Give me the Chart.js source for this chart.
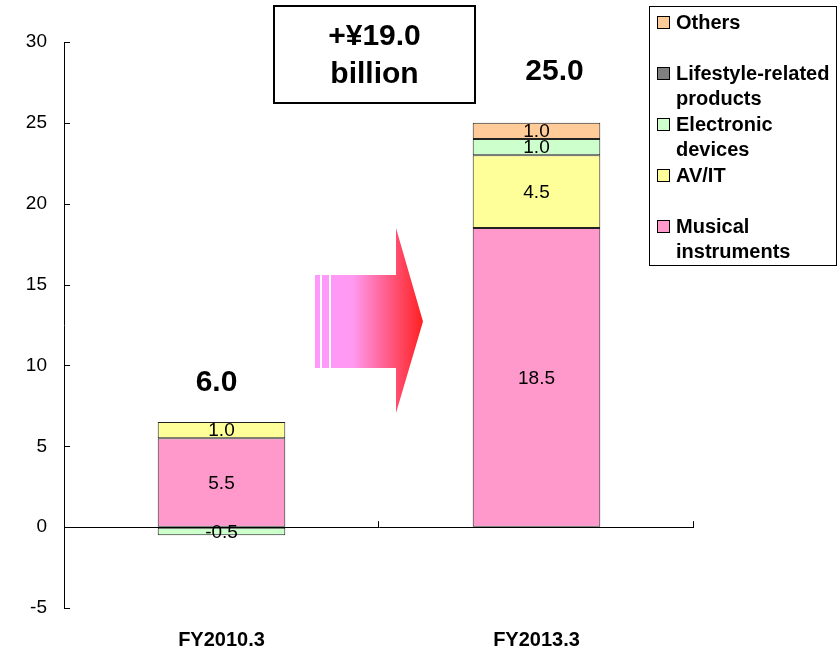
<!DOCTYPE html>
<html>
<head>
<meta charset="utf-8">
<script src="https://cdn.jsdelivr.net/npm/chart.js@4"></script>
<style>
  body { margin: 0; background: #fff; }
  #wrap { width: 838px; height: 652px; }
</style>
</head>
<body>
<div id="wrap"><canvas id="salesChart" width="838" height="652"></canvas></div>
<script>
// Categorías y series (¥ billion)
const categories = ['FY2010.3', 'FY2013.3'];
const musical = [5.5, 18.5];
const avit = [1.0, 4.5];
const electronic = [-0.5, 1.0];
const lifestyle = [0, 0];
const others = [0, 1.0];
const yTicks = [-5, 0, 5, 10, 15, 20, 25, 30];
const growthText = ['+¥19.0', 'billion'];

const FONT = 'Arial, "Liberation Sans", sans-serif';

const series = [
  { label: 'Musical instruments', data: musical, color: '#FF99CC' },
  { label: 'AV/IT', data: avit, color: '#FFFF99' },
  { label: 'Electronic devices', data: electronic, color: '#CCFFCC' },
  { label: 'Lifestyle-related products', data: lifestyle, color: '#808080' },
  { label: 'Others', data: others, color: '#FFCC99' }
];

function wrapText(ctx, text, maxWidth) {
  const words = text.split(' ');
  const lines = [];
  let line = '';
  words.forEach(w => {
    const test = line ? line + ' ' + w : w;
    if (ctx.measureText(test).width > maxWidth && line) {
      lines.push(line);
      line = w;
    } else {
      line = test;
    }
  });
  lines.push(line);
  return lines;
}

// Etiquetas, leyenda, cuadro de texto y flecha
const decorations = {
  id: 'decorations',
  afterDraw(chart, args, opts) {
    const ctx = chart.ctx;
    const area = chart.chartArea;
    const xs = chart.scales.x;
    const ys = chart.scales.y;
    const zeroY = ys.getPixelForValue(0);
    ctx.save();

    // marcas del eje Y hacia dentro
    ctx.strokeStyle = '#000';
    ctx.lineWidth = 1;
    yTicks.forEach(v => {
      const y = Math.round(ys.getPixelForValue(v)) + 0.5;
      ctx.beginPath();
      ctx.moveTo(area.left, y);
      ctx.lineTo(area.left + 6, y);
      ctx.stroke();
    });

    // marcas entre categorías sobre la línea cero
    const seps = [];
    for (let i = 0; i < categories.length - 1; i++) {
      seps.push((xs.getPixelForValue(i) + xs.getPixelForValue(i + 1)) / 2);
    }
    seps.push(area.right);
    seps.forEach(x => {
      const px = Math.round(x) - 0.5;
      ctx.beginPath();
      ctx.moveTo(px, zeroY);
      ctx.lineTo(px, zeroY - 6);
      ctx.stroke();
    });

    // valores dentro de cada segmento
    ctx.fillStyle = '#000';
    ctx.font = '19px ' + FONT;
    ctx.textAlign = 'center';
    ctx.textBaseline = 'middle';
    chart.data.datasets.forEach((ds, di) => {
      const meta = chart.getDatasetMeta(di);
      meta.data.forEach((bar, i) => {
        const v = ds.data[i];
        if (!v) return;
        ctx.fillText(v.toFixed(1), bar.x, (bar.y + bar.base) / 2 + 1);
      });
    });

    // totales encima de cada barra
    ctx.font = 'bold 30px ' + FONT;
    ctx.textBaseline = 'alphabetic';
    categories.forEach((c, i) => {
      let total = 0, top = 0;
      series.forEach(s => {
        total += s.data[i];
        if (s.data[i] > 0) top += s.data[i];
      });
      const off = opts.totalOffsets[i];
      ctx.fillText(total.toFixed(1), xs.getPixelForValue(i) + off.dx,
        ys.getPixelForValue(top) + off.dy);
    });

    // cuadro con el incremento
    const b = opts.growthBox;
    ctx.lineWidth = 2;
    ctx.strokeRect(b.x, b.y, b.w, b.h);
    ctx.fillText(growthText[0], b.x + b.w / 2, b.y + 39);
    ctx.fillText(growthText[1], b.x + b.w / 2, b.y + 77);

    // flecha con degradado
    const a = opts.arrow;
    const grad = ctx.createLinearGradient(a.x0, 0, a.tip, 0);
    grad.addColorStop(0, '#FF99FF');
    grad.addColorStop(0.35, '#FF99F0');
    grad.addColorStop(1, '#FF2020');
    ctx.fillStyle = grad;
    ctx.fillRect(a.x0, a.bodyTop, 5, a.bodyBottom - a.bodyTop);
    ctx.fillRect(a.x0 + 7, a.bodyTop, 7, a.bodyBottom - a.bodyTop);
    ctx.beginPath();
    ctx.moveTo(a.x0 + 16, a.bodyTop);
    ctx.lineTo(a.headX, a.bodyTop);
    ctx.lineTo(a.headX, a.headTop);
    ctx.lineTo(a.tip, (a.bodyTop + a.bodyBottom) / 2);
    ctx.lineTo(a.headX, a.headBottom);
    ctx.lineTo(a.headX, a.bodyBottom);
    ctx.lineTo(a.x0 + 16, a.bodyBottom);
    ctx.closePath();
    ctx.fill();

    // leyenda
    const L = opts.legendBox;
    ctx.lineWidth = 1;
    ctx.strokeStyle = '#000';
    ctx.strokeRect(L.x + 0.5, L.y + 0.5, L.w, L.h);
    ctx.font = 'bold 20px ' + FONT;
    ctx.textAlign = 'left';
    ctx.textBaseline = 'middle';
    series.slice().reverse().forEach((s, k) => {
      const cy = L.y + 17 + k * 51;
      ctx.fillStyle = s.color;
      ctx.fillRect(L.x + 8.5, cy - 6.5, 12, 12);
      ctx.strokeStyle = '#000';
      ctx.strokeRect(L.x + 8.5, cy - 6.5, 12, 12);
      ctx.fillStyle = '#000';
      wrapText(ctx, s.label, 160).forEach((ln, j) => {
        ctx.fillText(ln, L.x + 27, cy + j * 25);
      });
    });

    ctx.restore();
  }
};

const data = {
  labels: categories,
  datasets: series.map(s => ({
    label: s.label,
    data: s.data,
    backgroundColor: s.color,
    borderColor: '#222',
    borderWidth: 1,
    borderSkipped: false,
    barPercentage: 0.405,
    categoryPercentage: 1
  }))
};

const config = {
  type: 'bar',
  data: data,
  options: {
    responsive: false,
    animation: false,
    layout: { padding: { top: 42, right: 144, left: 0, bottom: 0 } },
    plugins: {
      legend: { display: false },
      tooltip: { enabled: false },
      decorations: {
        totalOffsets: [{ dx: -5, dy: -31 }, { dx: 18, dy: -43 }],
        growthBox: { x: 274, y: 6, w: 201, h: 97 },
        arrow: { x0: 315, bodyTop: 275, bodyBottom: 368, headX: 396, headTop: 228, headBottom: 413, tip: 423 },
        legendBox: { x: 649, y: 6, w: 187, h: 259 }
      }
    },
    scales: {
      x: {
        stacked: true,
        grid: { display: false, drawTicks: false },
        border: { display: false },
        ticks: {
          color: '#000',
          padding: 20,
          font: { family: FONT, size: 20, weight: 'bold' }
        },
        afterFit: s => { s.height = 44; }
      },
      y: {
        stacked: true,
        min: -5,
        max: 30,
        afterBuildTicks: s => { s.ticks = yTicks.map(v => ({ value: v })); },
        afterFit: s => { s.width = 64; },
        border: { display: true, color: '#000', width: 1 },
        grid: {
          drawTicks: false,
          color: c => (c.tick && c.tick.value === 0 ? '#000' : 'rgba(0,0,0,0)'),
          lineWidth: 1
        },
        ticks: {
          color: '#000',
          padding: 17,
          font: { family: FONT, size: 19 }
        }
      }
    }
  },
  plugins: [decorations]
};

const salesChart = new Chart(document.getElementById('salesChart'), config);
</script>
</body>
</html>
